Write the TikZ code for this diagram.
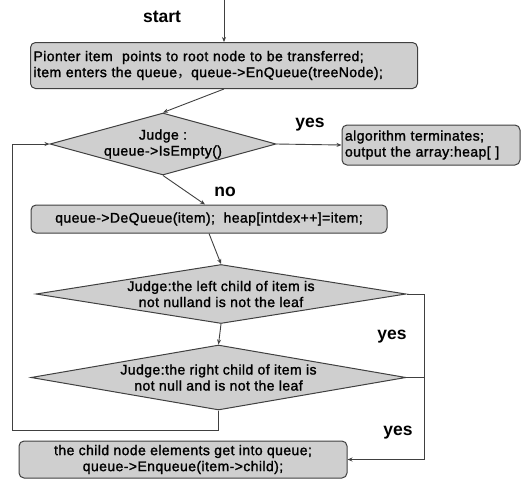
\documentclass[tikz,border=0pt]{standalone}
\usepackage{fontspec}
\setmainfont{Liberation Sans}[FakeBold=1.5,LetterSpace=3]
\newfontfamily\cjk{Noto Sans CJK SC}
\newfontfamily\tagfont{Liberation Sans Bold}
\usetikzlibrary{shapes.geometric,arrows.meta}
\definecolor{boxfill}{RGB}{207,207,207}
\definecolor{boxline}{RGB}{64,64,64}
\begin{document}
\begin{tikzpicture}[x=1pt,y=-1pt,
  every node/.style={font=\fontsize{14}{16}\selectfont},
  stepbox/.style={draw=boxline,fill=boxfill,rounded corners=5pt,line width=1pt,inner sep=3pt},
  judge/.style={draw=boxline,fill=boxfill,diamond,inner sep=0pt,line width=1pt},
  tag/.style={font=\fontsize{17.5}{19}\tagfont},
  flow/.style={draw=boxline,line width=0.9pt,-{Stealth[length=5pt,width=4pt]}},
  link/.style={draw=boxline,line width=0.9pt}]
\useasboundingbox (0,0) rectangle (525,480);
\coordinate (top) at (224,0);
\coordinate (loop) at (12,430);
\coordinate (rail) at (424,0);
\node[tag] (start) at (162,17) {start};
\node[stepbox,anchor=north west,minimum width=387pt,minimum height=46pt,text width=381pt,align=left] (init) at (30,42)
  {Pionter item\ \ points to root node to be transferred;\\item enters the queue{\cjk ，}queue->EnQueue(treeNode);};
\node[judge,minimum width=226pt,minimum height=62pt,label={[align=center]center:Judge :\\queue->IsEmpty()}] (empty) at (163,144) {};
\node[stepbox,minimum width=178pt,minimum height=40pt,text width=172pt,align=left] (done) at (431,145)
  {algorithm terminates;\\output the array:heap[ ]};
\node[stepbox,minimum width=356pt,minimum height=28pt] (deq) at (209,219) {queue->DeQueue(item);\ \ heap[intdex++]=item;};
\node[judge,minimum width=370pt,minimum height=59pt,label={[align=center]center:Judge:the left child of item is\\not nulland is not the leaf}] (left) at (221,294) {};
\node[judge,minimum width=375pt,minimum height=65pt,label={[align=center]center:Judge:the right child of item is\\not null and is not the leaf}] (right) at (218.5,377.5) {};
\node[stepbox,minimum width=328pt,minimum height=37pt,align=center] (enq) at (183,459.5)
  {the child node elements get into queue;\\queue->Enqueue(item->child);};
\node[tag] (yes1) at (310,125) {yes};
\node[tag] (no) at (225,192) {no};
\node[tag] (yes2) at (392,337) {yes};
\node[tag] (yes3) at (398,433) {yes};
\draw[flow] (top) -- (init.north);
\draw[flow] (init.south) -- (empty.north);
\draw[flow] (empty.east) -- (done.west);
\draw[flow] (empty.south) -- ([xshift=-4pt]deq.north);
\draw[flow] (deq.south) -- (left.north);
\draw[flow] (left.south) -- (right.north);
\draw[flow] (right.south) |- (loop) |- (empty.west);
\draw[flow] (left.east) -- (left.east -| rail) |- (enq.east);
\draw[link] (right.east) -- (right.east -| rail);
\end{tikzpicture}
\end{document}
